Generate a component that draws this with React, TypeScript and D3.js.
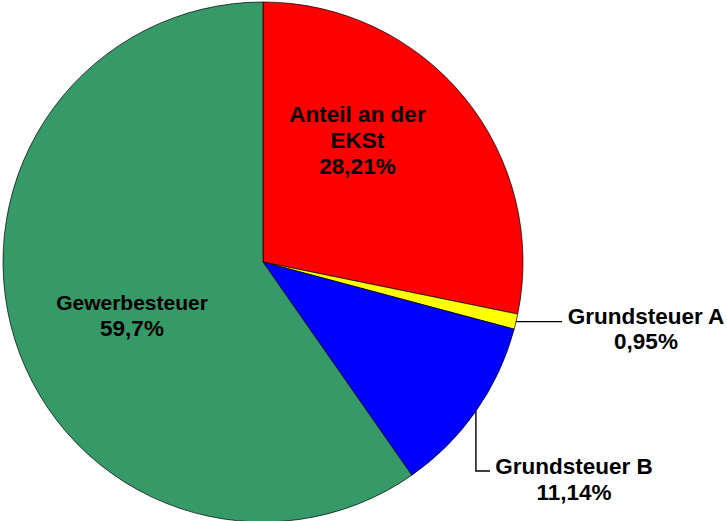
import * as d3 from "d3";

const categories = ["Anteil an der EKSt", "Grundsteuer A", "Grundsteuer B", "Gewerbesteuer"];
const shares = [28.21, 0.95, 11.14, 59.7];
const valueLabels = ["28,21%", "0,95%", "11,14%", "59,7%"];
const colors = ["#ff0000", "#ffff00", "#0000ff", "#359a68"];

const W = 727;
const H = 521;
const cx = 263;
const cy = 262;
const radius = 260;

function App() {
  const pie = d3.pie<number>().sort(null).value((d) => d);
  const arcs = pie(shares);
  const arc = d3.arc<d3.PieArcDatum<number>>().innerRadius(0).outerRadius(radius);
  // point on the rim in the middle of a slice
  const edge = (a: d3.PieArcDatum<number>) => {
    const ang = (a.startAngle + a.endAngle) / 2;
    return [Math.sin(ang) * radius, -Math.cos(ang) * radius];
  };

  const font = "'Liberation Sans', Arial, sans-serif";
  const eA = edge(arcs[1]);
  const eB = edge(arcs[2]);

  return (
    <svg
      width={W}
      height={H}
      style={{ position: "fixed", left: 0, top: 0, background: "#fff" }}
      fontFamily={font}
      fontWeight="bold"
    >
      <g transform={`translate(${cx},${cy})`}>
        {arcs.map((a, i) => (
          <path key={categories[i]} d={arc(a) || ""} fill={colors[i]} stroke="#000" strokeWidth={0.7} />
        ))}
        {/* leader lines */}
        <polyline
          points={`${eA[0]},${eA[1]} ${562 - cx},${eA[1]}`}
          fill="none"
          stroke="#000"
          strokeWidth={1.4}
        />
        <polyline
          points={`${eB[0]},${eB[1]} ${eB[0]},${471 - cy} ${490 - cx},${471 - cy}`}
          fill="none"
          stroke="#000"
          strokeWidth={1.4}
        />
      </g>

      {/* inner labels */}
      <text textAnchor="middle" fontSize={22.5} fill="#000">
        <tspan x={357.5} y={122}>Anteil an der</tspan>
        <tspan x={357.5} y={148}>EKSt</tspan>
        <tspan x={357.5} y={174}>{valueLabels[0]}</tspan>
      </text>
      <text textAnchor="middle" fontSize={21} fill="#000">
        <tspan x={132} y={310}>{categories[3]}</tspan>
        <tspan x={132} y={336} fontSize={22.5}>{valueLabels[3]}</tspan>
      </text>

      {/* outer labels */}
      <text textAnchor="middle" fontSize={22.5} fill="#000">
        <tspan x={646} y={323.5}>{categories[1]}</tspan>
        <tspan x={646} y={349}>{valueLabels[1]}</tspan>
      </text>
      <text textAnchor="middle" fontSize={22.5} fill="#000">
        <tspan x={574} y={474}>{categories[2]}</tspan>
        <tspan x={574} y={500}>{valueLabels[2]}</tspan>
      </text>
    </svg>
  );
}

export default App;
